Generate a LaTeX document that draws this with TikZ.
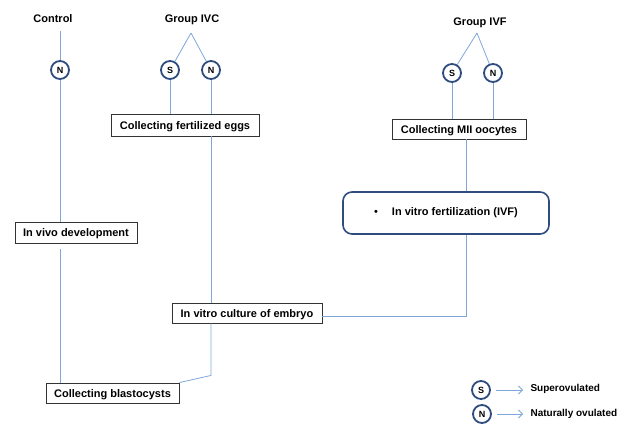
\documentclass[tikz,border=0pt]{standalone}
\usepackage{fontspec}
\setmainfont{Liberation Sans}
\usetikzlibrary{arrows.meta}
\definecolor{linkblue}{HTML}{7EA6DA}
\definecolor{ovlblue}{HTML}{2E4C7E}
\begin{document}
\begin{tikzpicture}[x=1pt, y=-1pt, font=\bfseries\fontsize{11}{13}\selectfont]
 \tikzset{box/.style={draw=black!80, line width=0.9pt, fill=white, inner sep=0pt, minimum height=20pt, text height=8pt, text depth=0pt},
  stage/.style={draw=ovlblue, line width=1.6pt, rounded corners=9pt, inner sep=0pt, minimum width=206pt, minimum height=42pt},
  ovl/.style={draw=ovlblue, circle, fill=white, line width=1.8pt, minimum size=18pt, inner sep=0pt, font=\bfseries\fontsize{9}{9}\selectfont},
  group/.style={anchor=base, inner sep=0pt},
  legend/.style={anchor=west, font=\bfseries\fontsize{10}{12}\selectfont, text height=7.2pt, text depth=0pt},
  link/.style={draw=linkblue, line width=0.8pt}}
  \useasboundingbox (0,0) rectangle (626,423);
  % groups
  \node[group] (Control) at (53,22.7) {Control};
  \node[group] (GroupIVC) at (192,22.7) {Group IVC};
  \node[group] (GroupIVF) at (480,25) {Group IVF};
  \coordinate (CtrlTop) at (60,31);
  \coordinate (IvcFork) at (191,33);
  \coordinate (IvfFork) at (477,33);
  \node[ovl] (CtrlN) at (60,70) {N};
  \node[ovl] (IvcS) at (170,70) {S};
  \node[ovl] (IvcN) at (211,70) {N};
  \node[ovl] (IvfS) at (452,73) {S};
  \node[ovl] (IvfN) at (493,73) {N};
  % steps
  \node[box, minimum width=148pt, minimum height=22pt] (Eggs) at (185,125) {Collecting fertilized eggs};
  \node[box, minimum width=134pt] (Oocytes) at (459,129) {Collecting MII oocytes};
  \node[stage] (Fertil) at (446,213) {\mdseries\textbullet\hspace{14pt}\bfseries In vitro fertilization (IVF)};
  \node[box, minimum width=122pt, minimum height=21pt] (InVivo) at (76,232.5) {In vivo development};
  \node[box, minimum width=150pt] (Culture) at (247,313) {In vitro culture of embryo};
  \node[box, minimum width=133pt] (Blasto) at (112.5,393) {Collecting blastocysts};
  \coordinate (Drop) at (466,139);
  % links
  \draw[link] (CtrlTop) -- (CtrlN);
  \draw[link] (CtrlN) -- (CtrlN |- InVivo.north);
  \draw[link] (CtrlN |- InVivo.south) ++(0,6) -- (CtrlN |- Blasto.north);
  \draw[link] (IvcFork) -- (IvcS);
  \draw[link] (IvcFork) -- (IvcN);
  \draw[link] (IvcS) -- (IvcS |- Eggs.north);
  \draw[link] (IvcN) -- (IvcN |- Eggs.north);
  \draw[link] (IvcN |- Eggs.south) -- (IvcN |- Culture.north);
  \draw[link] (IvcN |- Culture.south) -- ++(0,52) -- (Blasto.north east);
  \draw[link] (IvfFork) -- (IvfS);
  \draw[link] (IvfFork) -- (IvfN);
  \draw[link] (IvfS) -- (IvfS |- Oocytes.north);
  \draw[link] (IvfN) -- (IvfN |- Oocytes.north);
  \draw[link] (Drop) -- (Drop |- Fertil.north);
  \draw[link] (Culture.east) ++(0,3) -| (Drop |- Fertil.south);
  % legend
  \node[ovl] (LegS) at (481,390) {S};
  \node[ovl] (LegN) at (482,414) {N};
  \node[legend] (LegSText) at (527,387.5) {Superovulated};
  \node[legend] (LegNText) at (527,412.5) {Naturally ovulated};
  \draw[link, ->, >={Straight Barb[length=4pt, width=8pt]}, shorten <=5pt, shorten >=4pt] (LegS) -- (LegS -| LegSText.west);
  \draw[link, ->, >={Straight Barb[length=4pt, width=8pt]}, shorten <=5pt, shorten >=4pt] (LegN) -- (LegN -| LegNText.west);
\end{tikzpicture}
\end{document}
